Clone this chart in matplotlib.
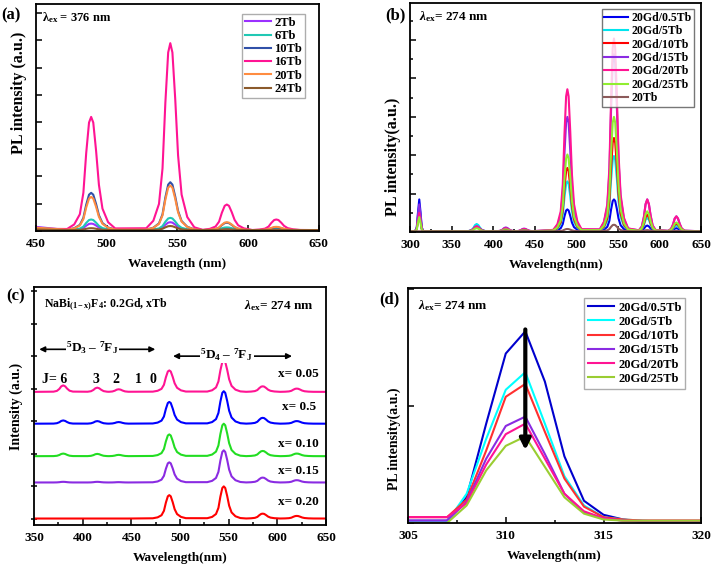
import matplotlib
matplotlib.use("Agg")
import matplotlib.pyplot as plt
from matplotlib.ticker import MultipleLocator, NullFormatter

plt.rcParams['font.family'] = ['Liberation Serif', 'DejaVu Serif']
plt.rcParams['font.weight'] = 'bold'
plt.rcParams['axes.labelweight'] = 'bold'
plt.rcParams['mathtext.fontset'] = 'custom'
plt.rcParams['mathtext.rm'] = 'Liberation Serif:bold'
plt.rcParams['mathtext.it'] = 'Liberation Serif:italic:bold'
plt.rcParams['mathtext.bf'] = 'Liberation Serif:bold'

# peak line shape (offset in nm, relative height)
SHAPE_OFF = [-17, -12, -8, -5.5, -3.5, -1.5, 0, 1.5, 3.5, 5.5, 8, 12, 17]
SHAPE_REL = [0.01, 0.05, 0.14, 0.33, 0.68, 0.95, 1.0, 0.95, 0.7, 0.4, 0.19, 0.07, 0.015]
SMALL_OFF = [-10, -6.5, -4, -2, 0, 2, 4, 6.5, 10]
SMALL_REL = [0.03, 0.15, 0.45, 0.85, 1.0, 0.85, 0.5, 0.18, 0.04]
GD_OFF = [-5, -3, -1.5, 0, 1.5, 3, 5]
GD_REL = [0.0, 0.12, 0.6, 1.0, 0.6, 0.12, 0.0]

# (a) lambda_ex = 376 nm
a_peaks = [489, 545, 585, 620]
a_names = ["2Tb", "6Tb", "10Tb", "16Tb", "20Tb", "24Tb"]
a_colors = ["#9b30ff", "#20c8b4", "#3050a8", "#ff1493", "#ff8c40", "#8b5a2b"]
a_heights = [
    [0.24, 0.29, 0.06, 0.03],
    [0.39, 0.45, 0.10, 0.04],
    [1.37, 1.76, 0.27, 0.10],
    [4.16, 6.87, 0.94, 0.39],
    [1.22, 1.64, 0.29, 0.12],
    [0.07, 0.15, 0.03, 0.01],
]
a_start = [0.15, 0.10, 0.08, 0.08, 0.12, 0.05]

# (b) lambda_ex = 274 nm
b_peaks = [311, 380, 415, 437, 489, 545, 585, 620]
b_names = ["20Gd/0.5Tb", "20Gd/5Tb", "20Gd/10Tb", "20Gd/15Tb", "20Gd/20Tb", "20Gd/25Tb", "20Tb"]
b_colors = ["#0000ee", "#00e5ee", "#ff0000", "#8a2be2", "#ff1493", "#90ee30", "#8b5a5a"]
b_heights = [
    [0.83, 0.10, 0.02, 0.01, 0.57, 0.83, 0.15, 0.08],
    [0.60, 0.19, 0.05, 0.03, 1.30, 1.96, 0.35, 0.15],
    [0.55, 0.12, 0.06, 0.04, 1.65, 2.43, 0.43, 0.20],
    [0.70, 0.13, 0.10, 0.07, 2.98, 4.61, 0.83, 0.39],
    [0.48, 0.13, 0.08, 0.06, 3.70, 5.02, 0.83, 0.39],
    [0.37, 0.08, 0.05, 0.03, 2.00, 2.98, 0.52, 0.23],
    [0.00, 0.00, 0.02, 0.02, 0.06, 0.17, 0.03, 0.01],
]

# (c) stacked spectra
c_peaks = [380, 415, 437, 489, 545, 585, 620]
c_names = ["x= 0.05", "x= 0.5", "x= 0.10", "x= 0.15", "x= 0.20"]
c_colors = ["#ff1493", "#0000ff", "#22dd22", "#8a2be2", "#ff0000"]
c_offsets = [3.90, 2.92, 1.92, 1.11, 0.0]
c_heights = [
    [0.20, 0.13, 0.08, 0.66, 0.97, 0.17, 0.10],
    [0.10, 0.08, 0.05, 0.67, 1.00, 0.18, 0.08],
    [0.08, 0.07, 0.04, 0.67, 1.00, 0.16, 0.08],
    [0.02, 0.02, 0.01, 0.62, 0.99, 0.15, 0.07],
    [0.00, 0.00, 0.00, 0.72, 0.99, 0.15, 0.08],
]
c_label_y = [4.44, 3.44, 2.31, 1.47, 0.51]
j_labels = ["J= 6", "3", "2", "1", "0"]
j_x = [371, 414, 434, 457, 472]

# (d) Gd emission at 311 nm
d_wl = [305, 306, 307, 308, 309, 310, 311, 312, 313, 314, 315, 316, 317, 318, 319, 320]
d_names = b_names[:6]
d_colors = ["#0000cd", "#00ffff", "#ff3030", "#8a2be2", "#ff1493", "#9acd32"]
d_values = [
    [0.02, 0.02, 0.02, 0.22, 0.85, 1.45, 1.64, 1.21, 0.57, 0.19, 0.07, 0.03, 0.01, 0.0, 0.0, 0.0],
    [0.01, 0.01, 0.01, 0.25, 0.72, 1.14, 1.29, 0.85, 0.40, 0.15, 0.05, 0.03, 0.02, 0.01, 0.01, 0.01],
    [0.05, 0.05, 0.05, 0.20, 0.62, 1.08, 1.19, 0.78, 0.38, 0.14, 0.05, 0.03, 0.02, 0.02, 0.02, 0.02],
    [0.02, 0.02, 0.02, 0.18, 0.55, 0.83, 0.91, 0.59, 0.25, 0.09, 0.04, 0.02, 0.01, 0.01, 0.01, 0.01],
    [0.05, 0.05, 0.05, 0.17, 0.50, 0.76, 0.85, 0.55, 0.25, 0.10, 0.04, 0.02, 0.02, 0.02, 0.02, 0.02],
    [0.00, 0.00, 0.00, 0.15, 0.45, 0.66, 0.74, 0.48, 0.22, 0.08, 0.03, 0.02, 0.02, 0.02, 0.02, 0.02],
]


def spectrum(lo, hi, start, base, centres, heights, shapes):
    # joins the peak shapes one after the other along the wavelength axis
    xs = [lo]
    ys = [start]
    for c, h, (off, rel) in zip(centres, heights, shapes):
        xs += [c + o for o in off]
        ys += [base + h * r for r in rel]
    xs.append(hi)
    ys.append(base)
    return xs, ys


def style(ax):
    for s in ax.spines.values():
        s.set_linewidth(1.3)
    ax.tick_params(which='both', direction='in', top=False, right=False,
                   labelsize=9.5, pad=5, width=1.1)
    ax.tick_params(which='major', length=4)
    ax.tick_params(which='minor', length=2.5)
    ax.yaxis.set_major_formatter(NullFormatter())


fig = plt.figure(figsize=(7.12, 5.66), dpi=100)
ax_a = fig.add_axes([0.0506, 0.592, 0.397, 0.401])
ax_b = fig.add_axes([0.576, 0.590, 0.409, 0.405])
ax_c = fig.add_axes([0.0478, 0.0724, 0.410, 0.4206])
ax_d = fig.add_axes([0.573, 0.076, 0.412, 0.415])

# (a)
a_shapes = [(SHAPE_OFF, SHAPE_REL)] * 4
for name, col, h, st in zip(a_names, a_colors, a_heights, a_start):
    x, y = spectrum(450, 650, st, 0.03, a_peaks, h, a_shapes)
    ax_a.plot(x, y, color=col, lw=1.5, label=name)
ax_a.set_xlim(450, 650)
ax_a.set_ylim(0, 8.34)
ax_a.xaxis.set_major_locator(MultipleLocator(50))
ax_a.xaxis.set_minor_locator(MultipleLocator(25))
ax_a.yaxis.set_major_locator(MultipleLocator(1))
style(ax_a)
ax_a.set_xlabel("Wavelength (nm)", fontsize=9.5, labelpad=6)
ax_a.set_ylabel("PL intensity (a.u.)", fontsize=11.5)
ax_a.yaxis.set_label_coords(-0.032, 0.61)
ax_a.legend(loc='upper right', fontsize=9, handlelength=2.1, labelspacing=0.1,
            borderpad=0.25, handletextpad=0.25, frameon=True, fancybox=False,
            edgecolor='#999999', bbox_to_anchor=(0.975, 0.985))

# (b)
b_shapes = [(GD_OFF, GD_REL), (SMALL_OFF, SMALL_REL), (SMALL_OFF, SMALL_REL),
            (SMALL_OFF, SMALL_REL), (SHAPE_OFF, SHAPE_REL), (SHAPE_OFF, SHAPE_REL),
            (SMALL_OFF, SMALL_REL), (SMALL_OFF, SMALL_REL)]
for name, col, h in zip(b_names, b_colors, b_heights):
    x, y = spectrum(300, 650, 0.02, 0.02, b_peaks, h, b_shapes)
    ax_b.plot(x, y, color=col, lw=1.5, label=name)
ax_b.set_xlim(300, 650)
ax_b.set_ylim(0, 5.97)
ax_b.xaxis.set_major_locator(MultipleLocator(50))
ax_b.xaxis.set_minor_locator(MultipleLocator(25))
ax_b.yaxis.set_major_locator(MultipleLocator(1))
ax_b.yaxis.set_minor_locator(MultipleLocator(0.5))
style(ax_b)
ax_b.set_xlabel("Wavelength(nm)", fontsize=9.5, labelpad=6)
ax_b.set_ylabel("PL intensity(a.u.)", fontsize=11.5)
ax_b.yaxis.set_label_coords(-0.031, 0.33)
ax_b.legend(loc='upper right', fontsize=8.5, handlelength=2.0, labelspacing=0.12,
            borderpad=0.2, handletextpad=0.3, frameon=True, fancybox=False,
            edgecolor='#555555', bbox_to_anchor=(0.995, 0.997))

# (c)
c_shapes = [(SMALL_OFF, SMALL_REL)] * 3 + [(SHAPE_OFF, SHAPE_REL)] * 4
for name, col, off, h, ly in zip(c_names, c_colors, c_offsets, c_heights, c_label_y):
    x, y = spectrum(350, 650, off, off, c_peaks, h, c_shapes)
    ax_c.plot(x, y, color=col, lw=1.5)
    ax_c.text(622, ly, name, fontsize=9.5, ha='center', va='center')
for lab, xx in zip(j_labels, j_x):
    ax_c.text(xx, 4.29, lab, fontsize=10, ha='center', va='center')
ax_c.set_xlim(350, 650)
ax_c.set_ylim(-0.2, 7.13)
ax_c.xaxis.set_major_locator(MultipleLocator(50))
ax_c.xaxis.set_minor_locator(MultipleLocator(25))
ax_c.yaxis.set_major_locator(MultipleLocator(1))
style(ax_c)
ax_c.tick_params(axis='y', which='major', direction='inout', length=5)
ax_c.set_xlabel("Wavelength(nm)", fontsize=9.5, labelpad=6)
ax_c.set_ylabel("Intensity (a.u.)", fontsize=10)
ax_c.yaxis.set_label_coords(-0.038, 0.5)
ax_c.text(0.035, 0.925, r"NaBi$_{\mathrm{(1-x)}}$F$_{\mathrm{4}}$: 0.2Gd, xTb",
          transform=ax_c.transAxes, fontsize=8.5, ha='left', va='center')
ax_c.text(0.72, 0.92, r"$\lambda_{\mathrm{ex}}$= 274 nm",
          transform=ax_c.transAxes, fontsize=9.5, ha='left', va='center')
arrow = dict(arrowstyle='<|-|>', color='k', lw=1.2, mutation_scale=8)
ax_c.annotate('', xy=(352.5, 5.21), xytext=(477.5, 5.21), arrowprops=arrow)
ax_c.annotate('', xy=(490, 5.0), xytext=(618, 5.0), arrowprops=arrow)
ax_c.text(410, 5.26, r"$^{\mathrm{5}}$D$_{\mathrm{3}}$ – $^{\mathrm{7}}$F$_{\mathrm{J}}$",
          fontsize=9.5, ha='center', va='center',
          bbox=dict(facecolor='white', edgecolor='none', pad=0.5))
ax_c.text(548, 5.05, r"$^{\mathrm{5}}$D$_{\mathrm{4}}$ – $^{\mathrm{7}}$F$_{\mathrm{J}}$",
          fontsize=9.5, ha='center', va='center',
          bbox=dict(facecolor='white', edgecolor='none', pad=0.5))

# (d)
for name, col, v in zip(d_names, d_colors, d_values):
    ax_d.plot(d_wl, v, color=col, lw=1.5, label=name)
ax_d.annotate('', xy=(311, 0.60), xytext=(311, 1.68),
              arrowprops=dict(arrowstyle='-|>', color='k', lw=3, mutation_scale=16))
ax_d.set_xlim(305, 320)
ax_d.set_ylim(0, 2.01)
ax_d.xaxis.set_major_locator(MultipleLocator(5))
ax_d.xaxis.set_minor_locator(MultipleLocator(2.5))
ax_d.yaxis.set_major_locator(MultipleLocator(1))
style(ax_d)
ax_d.set_xlabel("Wavelength(nm)", fontsize=9.5, labelpad=6)
ax_d.set_ylabel("PL intensity(a.u.)", fontsize=10)
ax_d.yaxis.set_label_coords(-0.024, 0.36)
ax_d.legend(loc='upper right', fontsize=9, handlelength=2.1, labelspacing=0.18,
            borderpad=0.3, handletextpad=0.35, frameon=True, fancybox=False,
            edgecolor='#999999', bbox_to_anchor=(0.967, 0.985))
ax_d.text(0.035, 0.925, r"$\lambda_{\mathrm{ex}}$= 274 nm",
          transform=ax_d.transAxes, fontsize=9.5, ha='left', va='center')

# panel letters and lambda labels in (a), (b)
fig.text(11 / 712, 1 - 15 / 566, "(a)", fontsize=12, ha='center', va='center')
fig.text(395 / 712, 1 - 15 / 566, "(b)", fontsize=12, ha='center', va='center')
fig.text(16 / 712, 1 - 296 / 566, "(c)", fontsize=12, ha='center', va='center')
fig.text(389 / 712, 1 - 299 / 566, "(d)", fontsize=12, ha='center', va='center')
ax_a.text(0.022, 0.94, r"λ$_{\mathrm{ex}}$ = 376 nm", transform=ax_a.transAxes,
          fontsize=9, ha='left', va='center')
ax_b.text(0.03, 0.94, r"$\lambda_{\mathrm{ex}}$= 274 nm", transform=ax_b.transAxes,
          fontsize=9.5, ha='left', va='center')

fig.savefig("out.png", dpi=100)
